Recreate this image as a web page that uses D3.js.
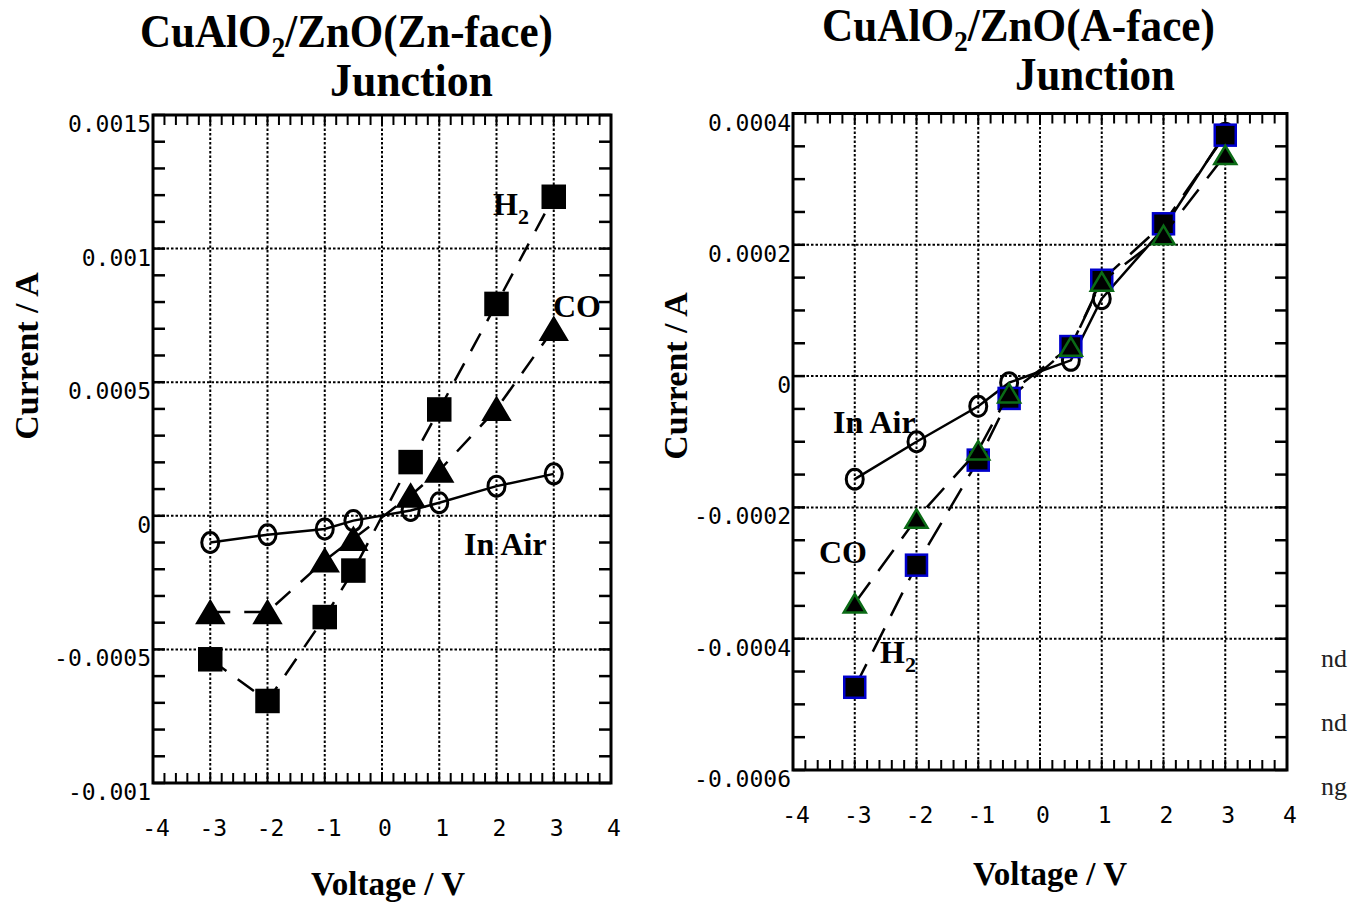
<!DOCTYPE html>
<html>
<head>
<meta charset="utf-8">
<script src="https://cdn.jsdelivr.net/npm/d3@7"></script>
<style>
  body { margin: 0; background: #fff; }
  text { fill: #000; }
</style>
</head>
<body>
<script>

// ---- data ----
const voltages = [-3, -2, -1, -0.5, 0.5, 1, 2, 3];

// Zn-face junction (A)
const znAir = [-0.0001, -0.000071, -0.000049, -0.000018, 0.00002, 0.000049, 0.000111, 0.000157];
const znCO  = [-0.00036, -0.00036, -0.000167, -0.000086, 0.000076, 0.000169, 0.0004, 0.0007];
const znH2  = [-0.000537, -0.000693, -0.000379, -0.000205, 0.000201, 0.000398, 0.000793, 0.001194];

// A-face junction (A)
const aAir = [-0.000157, -0.0001, -0.000046, -0.00001, 0.000024, 0.000118, 0.000225, 0.00037];
const aH2  = [-0.000474, -0.000288, -0.000128, -0.000034, 0.000045, 0.000146, 0.000232, 0.000367];
const aCO  = [-0.000346, -0.000217, -0.000113, -0.000026, 0.000045, 0.000144, 0.000215, 0.000337];

const xTicks = [-4, -3, -2, -1, 0, 1, 2, 3, 4];
const znYTicks = [0.0015, 0.001, 0.0005, 0, -0.0005, -0.001];
const aYTicks = [0.0004, 0.0002, 0, -0.0002, -0.0004, -0.0006];

const serif = "'Liberation Serif', 'Times New Roman', serif";
const mono = "'DejaVu Sans Mono', monospace";

const svg = d3.select("body").append("svg")
    .attr("width", 1364)
    .attr("height", 907);

const fmt = v => String(+v.toFixed(4));

// squeeze a text horizontally so it spans `len` pixels from x
function fitWidth(t, x, y, len) {
  const w = t.node().getComputedTextLength();
  t.attr("transform", `translate(${x},${y}) scale(${len / w},1)`);
}

function drawPanel(p) {
  const x = d3.scaleLinear().domain([-4, 4]).range([p.left, p.right]);
  const y = d3.scaleLinear().domain([p.yTicks[p.yTicks.length - 1], p.yTicks[0]]).range([p.bottom, p.top]);
  const g = svg.append("g");

  // dotted grid
  g.selectAll(".vgrid")
    .data(xTicks.slice(1, -1))
    .join("line")
      .attr("x1", d => x(d)).attr("x2", d => x(d))
      .attr("y1", p.top).attr("y2", p.bottom)
      .attr("stroke", "#000").attr("stroke-width", 2)
      .attr("stroke-dasharray", "2.5,2");
  g.selectAll(".hgrid")
    .data(p.yTicks.slice(1, -1))
    .join("line")
      .attr("x1", p.left).attr("x2", p.right)
      .attr("y1", d => y(d)).attr("y2", d => y(d))
      .attr("stroke", "#000").attr("stroke-width", 2)
      .attr("stroke-dasharray", "2.5,2");

  // minor ticks, all pointing inward
  const xMinor = d3.range(-4, 4.001, 0.2);
  const yLo = p.yTicks[p.yTicks.length - 1], yHi = p.yTicks[0];
  const yMinor = d3.range(0, Math.round((yHi - yLo) / p.yMinor) + 1).map(i => yLo + i * p.yMinor);
  g.selectAll(".tt").data(xMinor).join("line")
      .attr("x1", d => x(d)).attr("x2", d => x(d))
      .attr("y1", p.top).attr("y2", p.top + 10)
      .attr("stroke", "#000").attr("stroke-width", 2);
  g.selectAll(".bt").data(xMinor).join("line")
      .attr("x1", d => x(d)).attr("x2", d => x(d))
      .attr("y1", p.bottom).attr("y2", p.bottom - 10)
      .attr("stroke", "#000").attr("stroke-width", 2);
  g.selectAll(".lt").data(yMinor).join("line")
      .attr("x1", p.left).attr("x2", p.left + 12)
      .attr("y1", d => y(d)).attr("y2", d => y(d))
      .attr("stroke", "#000").attr("stroke-width", 2.5);
  g.selectAll(".rt").data(yMinor).join("line")
      .attr("x1", p.right).attr("x2", p.right - 12)
      .attr("y1", d => y(d)).attr("y2", d => y(d))
      .attr("stroke", "#000").attr("stroke-width", 2.5);

  // frame
  g.append("rect")
      .attr("x", p.left).attr("y", p.top)
      .attr("width", p.right - p.left).attr("height", p.bottom - p.top)
      .attr("fill", "none").attr("stroke", "#000").attr("stroke-width", 3);

  // tick labels
  g.selectAll(".xl").data(xTicks).join("text")
      .attr("x", d => x(d) + 3).attr("y", p.bottom + 53)
      .attr("text-anchor", "middle")
      .style("font-family", mono).style("font-size", "23px")
      .text(d => d);
  g.selectAll(".yl").data(p.yTicks).join("text")
      .attr("x", p.left - 2).attr("y", d => y(d) + 17)
      .attr("text-anchor", "end")
      .style("font-family", mono).style("font-size", "23px")
      .text(fmt);

  // series
  const line = d3.line().x((d, i) => x(voltages[i])).y(d => y(d));
  p.series.forEach(s => {
    g.append("path")
        .datum(s.values)
        .attr("d", line)
        .attr("fill", "none")
        .attr("stroke", "#000")
        .attr("stroke-width", 2.5)
        .attr("stroke-dasharray", s.dash || null);
    const m = g.selectAll(null).data(s.values).join("g")
        .attr("transform", (d, i) => `translate(${x(voltages[i])},${y(d)})`);
    if (s.shape === "circle") {
      m.append("ellipse").attr("rx", 8.5).attr("ry", 10)
          .attr("fill", "none").attr("stroke", "#000").attr("stroke-width", 3);
    } else if (s.shape === "square") {
      const h = s.size / 2;
      m.append("rect").attr("x", -h).attr("y", -h).attr("width", s.size).attr("height", s.size)
          .attr("fill", "#000").attr("stroke", s.stroke).attr("stroke-width", 2.5);
    } else {
      const w = s.size / 2, h = s.size * 0.42;
      m.append("path").attr("d", `M0,${-h}L${w},${h}L${-w},${h}Z`)
          .attr("fill", "#000").attr("stroke", s.stroke).attr("stroke-width", 2.5);
    }
  });

  // titles
  const t1 = g.append("text")
      .style("font-family", serif).style("font-weight", "bold").style("font-size", "47px");
  t1.append("tspan").text("CuAlO");
  t1.append("tspan").attr("dy", 10).style("font-size", "30px").text("2");
  t1.append("tspan").attr("dy", -10).text(p.title.rest);
  fitWidth(t1, p.title.x, p.title.y, p.title.len);
  const t2 = g.append("text")
      .style("font-family", serif).style("font-weight", "bold").style("font-size", "47px")
      .text("Junction");
  fitWidth(t2, p.junction.x, p.junction.y, p.junction.len);

  // axis titles
  g.append("text")
      .attr("x", p.xLabel.x).attr("y", p.xLabel.y)
      .attr("text-anchor", "middle")
      .style("font-family", serif).style("font-weight", "bold").style("font-size", "33px")
      .text("Voltage / V");
  g.append("text")
      .attr("transform", `translate(${p.yLabel.x},${p.yLabel.y}) rotate(-90)`)
      .attr("text-anchor", "middle")
      .style("font-family", serif).style("font-weight", "bold").style("font-size", "34px")
      .text("Current / A");

  // in-plot series labels
  p.labels.forEach(l => {
    const t = g.append("text")
        .attr("x", l.x).attr("y", l.y)
        .style("font-family", serif).style("font-weight", "bold").style("font-size", "32px");
    t.append("tspan").text(l.text);
    if (l.sub) t.append("tspan").attr("dy", 9).style("font-size", "22px").text(l.sub);
  });
}

drawPanel({
  left: 153, right: 611, top: 115, bottom: 783,
  yTicks: znYTicks, yMinor: 0.0001,
  series: [
    {values: znAir, shape: "circle"},
    {values: znCO, shape: "triangle", dash: "20,14", size: 26, stroke: "#000"},
    {values: znH2, shape: "square", dash: "20,14", size: 22, stroke: "#000"}
  ],
  title: {x: 140, y: 47, len: 413, rest: "/ZnO(Zn-face)"},
  junction: {x: 330, y: 96, len: 163},
  xLabel: {x: 388, y: 895},
  yLabel: {x: 38, y: 356},
  labels: [
    {text: "H", sub: "2", x: 493, y: 215},
    {text: "CO", x: 553, y: 317},
    {text: "In Air", x: 464, y: 555}
  ]
});

drawPanel({
  left: 793, right: 1287, top: 113.5, bottom: 770,
  yTicks: aYTicks, yMinor: 0.00005,
  series: [
    {values: aAir, shape: "circle"},
    {values: aH2, shape: "square", dash: "26,14", size: 21, stroke: "#0000cc"},
    {values: aCO, shape: "triangle", dash: "26,14", size: 22, stroke: "#0b6b16"}
  ],
  title: {x: 822, y: 41, len: 393, rest: "/ZnO(A-face)"},
  junction: {x: 1015, y: 90, len: 160},
  xLabel: {x: 1050, y: 885},
  yLabel: {x: 687, y: 376},
  labels: [
    {text: "In Air", x: 833, y: 433},
    {text: "CO", x: 819, y: 563},
    {text: "H", sub: "2", x: 880, y: 663}
  ]
});

// clipped word endings visible at the right edge of the page
const fragments = ["nd", "nd", "ng"];
svg.selectAll(".frag").data(fragments).join("text")
    .attr("x", 1321).attr("y", (d, i) => 667 + i * 64)
    .style("font-family", serif).style("font-size", "26px")
    .style("fill", "#222")
    .text(d => d);

</script>
</body>
</html>
